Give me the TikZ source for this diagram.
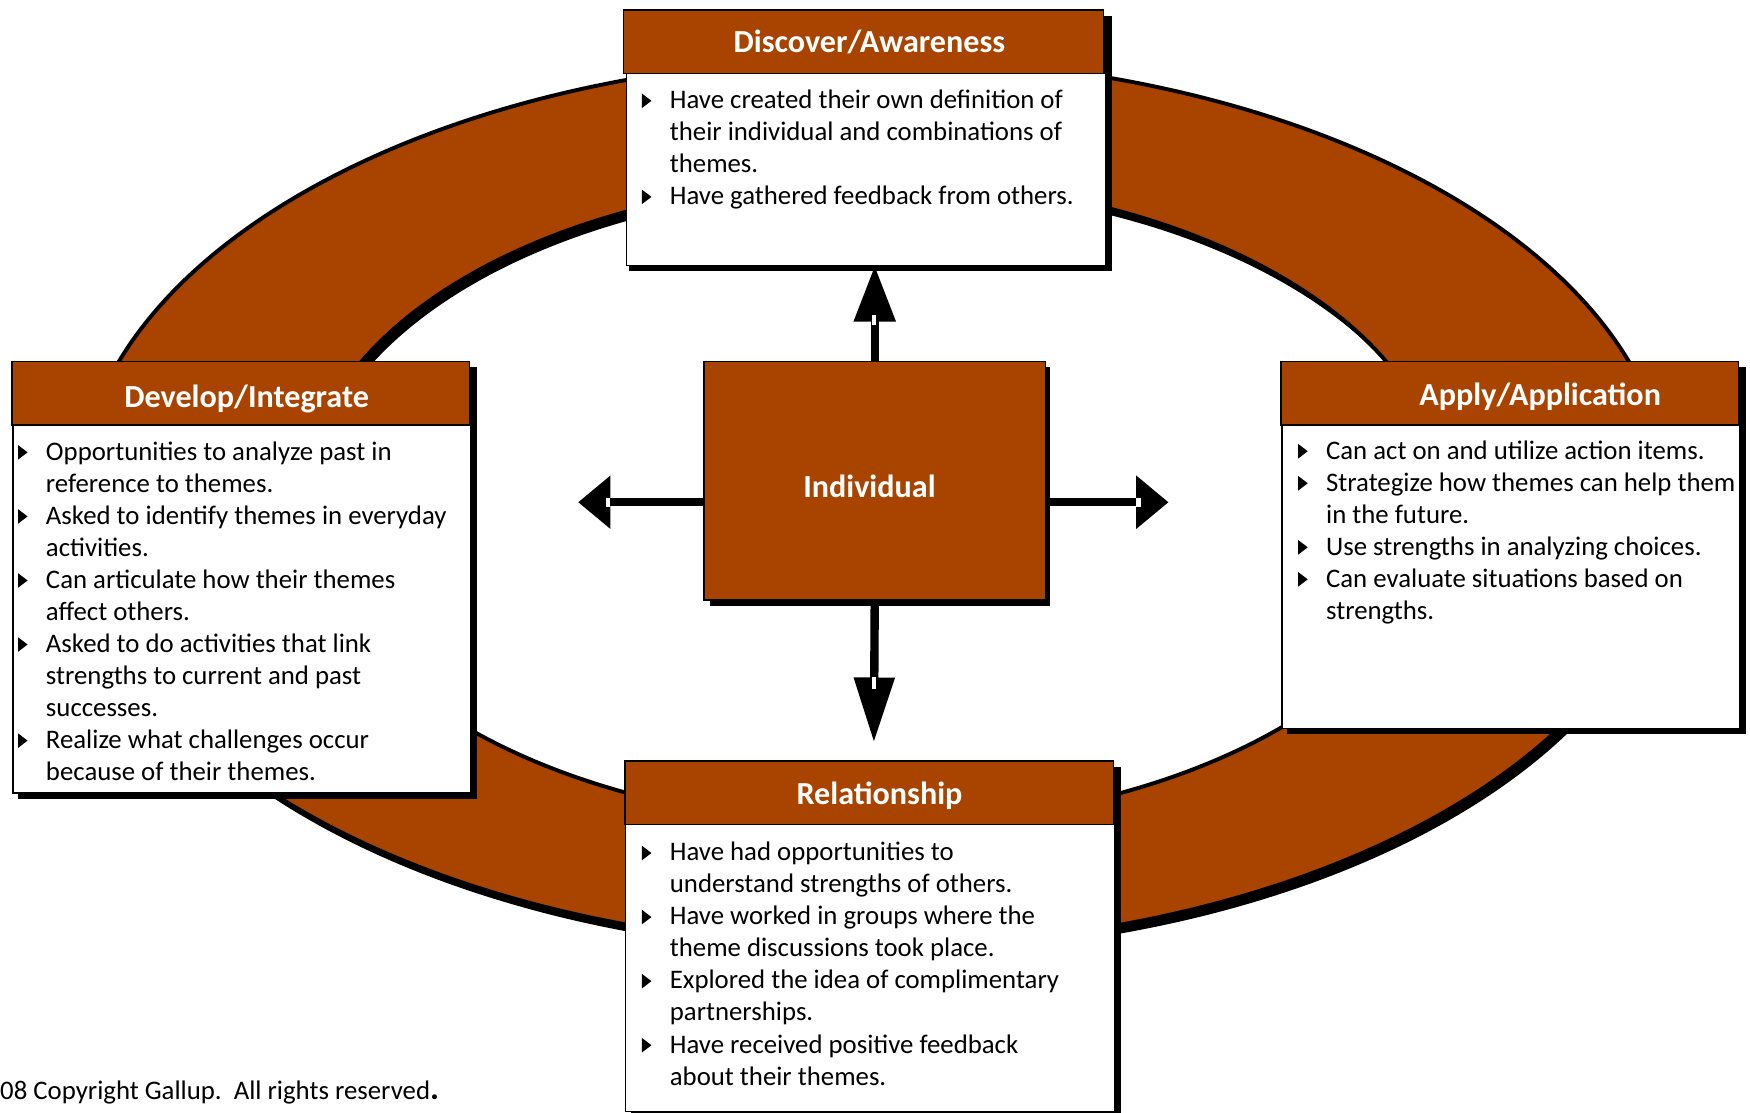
\documentclass[tikz,border=0pt]{standalone}
\usepackage{fontspec}
\setmainfont{Carlito}
\usetikzlibrary{arrows.meta}
\definecolor{rust}{RGB}{168,67,0}
\tikzset{
  headbox/.style={fill=rust, draw=black, line width=1.5pt, inner sep=0pt, anchor=north west},
  bodybox/.style={fill=white, draw=black, line width=1.2pt, inner sep=0pt, anchor=north west},
  boxshadow/.style={fill=black},
  titletext/.style={text=white, font=\fontsize{28.8}{30}\selectfont\bfseries, anchor=base, inner sep=0pt},
  bodytext/.style={anchor=north west, inner sep=0pt, font=\fontsize{24}{28.7}\selectfont, align=left},
  shaft/.style={line width=7.5pt, draw=black},
  notch/.style={fill=white},
}
\newcommand{\bul}{\makebox[25pt][l]{\tikz[baseline=0pt,x=1pt,y=1pt]\fill (0,0.5) -- (0,13.5) -- (8.5,7) -- cycle;}}
\begin{document}
\begin{tikzpicture}[x=1pt,y=-1pt]
\useasboundingbox (0,0) rectangle (1568,997);
% ring
\fill[black, even odd rule] (788,457) ellipse [x radius=713pt, y radius=398pt] (788,457) ellipse [x radius=510pt, y radius=289pt];
\filldraw[fill=rust, draw=black, line width=3.5pt, even odd rule] (783,450) ellipse [x radius=713pt, y radius=398pt] (783,450) ellipse [x radius=510pt, y radius=289pt];

% top box
\fill[boxshadow] (564,14) rectangle (996,243);
\node[bodybox, minimum width=429pt, minimum height=172pt] (discB) at (561,65) {};
\node[headbox, minimum width=430pt, minimum height=57pt] (discH) at (558,8) {};
\node[titletext] (discT) at (779,47) {Discover/Awareness};
\node[bodytext] (discL) at (575,77) {\begin{tabular}{@{}l@{}l@{}}
\bul & Have created their own definition of\\
 & their individual and combinations of\\
 & themes.\\
\bul & Have gathered feedback from others.
\end{tabular}};

% left box
\fill[boxshadow] (16,329) rectangle (427,716);
\node[bodybox, minimum width=410pt, minimum height=330pt] (devB) at (11,380) {};
\node[headbox, minimum width=410pt, minimum height=57pt] (devH) at (10,323) {};
\node[titletext] (devT) at (221,365) {Develop/Integrate};
\node[bodytext] (devL) at (16,392) {\begin{tabular}{@{}l@{}l@{}}
\bul & Opportunities to analyze past in\\
 & reference to themes.\\
\bul & Asked to identify themes in everyday\\
 & activities.\\
\bul & Can articulate how their themes\\
 & affect others.\\
\bul & Asked to do activities that link\\
 & strengths to current and past\\
 & successes.\\
\bul & Realize what challenges occur\\
 & because of their themes.
\end{tabular}};

% right box
\fill[boxshadow] (1153,329) rectangle (1564,658);
\node[bodybox, minimum width=410pt, minimum height=272pt] (appB) at (1148,380) {};
\node[headbox, minimum width=410pt, minimum height=57pt] (appH) at (1147,323) {};
\node[titletext] (appT) at (1380,363) {Apply/Application};
\node[bodytext] (appL) at (1163,391) {\begin{tabular}{@{}l@{}l@{}}
\bul & Can act on and utilize action items.\\
\bul & Strategize how themes can help them\\
 & in the future.\\
\bul & Use strengths in analyzing choices.\\
\bul & Can evaluate situations based on\\
 & strengths.
\end{tabular}};

% bottom box
\fill[boxshadow] (565,687) rectangle (1004,1010);
\node[bodybox, minimum width=438pt, minimum height=257pt] (relB) at (560,738) {};
\node[headbox, minimum width=438pt, minimum height=57pt] (relH) at (559,681) {};
\node[titletext] (relT) at (788,721) {Relationship};
\node[bodytext] (relL) at (575,751) {\begin{tabular}{@{}l@{}l@{}}
\bul & Have had opportunities to\\
 & understand strengths of others.\\
\bul & Have worked in groups where the\\
 & theme discussions took place.\\
\bul & Explored the idea of complimentary\\
 & partnerships.\\
\bul & Have received positive feedback\\
 & about their themes.
\end{tabular}};

% center box
\fill[boxshadow] (636,329) rectangle (941,543);
\node[headbox, minimum width=306pt, minimum height=214pt] (ind) at (630,323) {};
\node[titletext] (indT) at (779,446) {Individual};

% arrows
\coordinate (dtip) at (783,665);
\coordinate (ltip) at (518,450);
\coordinate (rtip) at (1047,450);
\draw[shaft, -{Triangle[length=50pt,width=36pt]}] (ind.north) -- (ind.north |- discB.south);
\draw[shaft, -{Triangle[length=58pt,width=35pt]}] (ind.south) -- (dtip);
\draw[shaft, -{Triangle[length=29pt,width=46pt]}] (ind.west |- ltip) -- (ltip);
\draw[shaft, -{Triangle[length=29pt,width=46pt]}] (ind.east |- rtip) -- (rtip);
\fill[notch] (781,282) rectangle (785,291);
\fill[notch] (781,607) rectangle (785,617);
\fill[notch] (543,446) rectangle (547,454);
\fill[notch] (1018,446) rectangle (1022,454);

% copyright
\node[anchor=base west, inner sep=0pt, font=\fontsize{24}{28.7}\selectfont] (copy) at (0,985) {08 Copyright Gallup.\ \ All rights reserved{\fontsize{30}{30}\selectfont\bfseries .}};
\end{tikzpicture}
\end{document}
